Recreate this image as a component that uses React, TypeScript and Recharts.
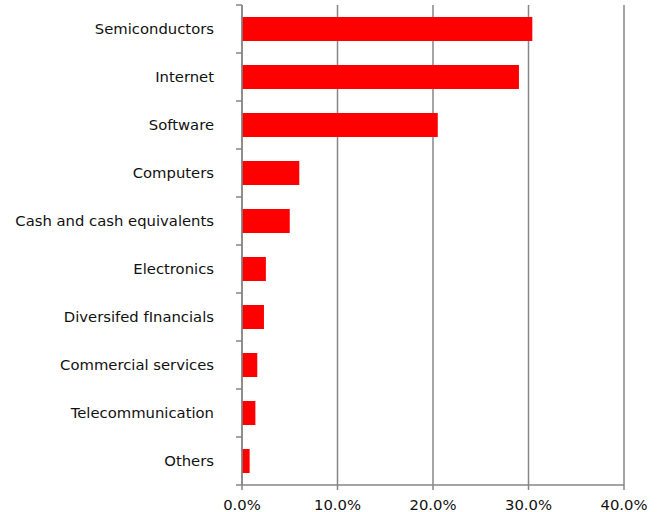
import { BarChart, Bar, XAxis, YAxis, CartesianGrid } from 'recharts';

const sectors = [
  'Semiconductors',
  'Internet',
  'Software',
  'Computers',
  'Cash and cash equivalents',
  'Electronics',
  'Diversifed fInancials',
  'Commercial services',
  'Telecommunication',
  'Others',
];

const weights = [30.4, 29.0, 20.5, 6.0, 5.0, 2.5, 2.3, 1.6, 1.4, 0.8];

const xTicks = [0, 10, 20, 30, 40];

const data = sectors.map((name, i) => ({ name, value: weights[i] }));

const WIDTH = 661;
const HEIGHT = 512;
const MARGIN = { top: 5, right: 37, bottom: 0, left: 0 };
const X_AXIS_HEIGHT = 27;
const BAND = (HEIGHT - MARGIN.top - MARGIN.bottom - X_AXIS_HEIGHT) / sectors.length;
const AXIS_COLOR = '#868686';
const FONT = '"DejaVu Sans", Verdana, sans-serif';
const FONT_SIZE = 14.8;

const SectorTick = (props: any) => {
  const { x, y, payload, index } = props;
  return (
    <g>
      <text x={x} y={y} dy={5} textAnchor="end" fill="#111" fontSize={FONT_SIZE} fontFamily={FONT}>
        {payload.value}
      </text>
      {index === 0 && (
        <line x1={x + 22} x2={x + 28} y1={y - BAND / 2} y2={y - BAND / 2} stroke={AXIS_COLOR} strokeWidth={1.5} />
      )}
      <line x1={x + 22} x2={x + 28} y1={y + BAND / 2} y2={y + BAND / 2} stroke={AXIS_COLOR} strokeWidth={1.5} />
    </g>
  );
};

export default function App() {
  return (
    <div style={{ position: 'absolute', left: 0, top: 0, background: '#fff' }}>
      <BarChart
        width={WIDTH}
        height={HEIGHT}
        data={data}
        layout="vertical"
        margin={MARGIN}
        barCategoryGap="25%"
      >
        <CartesianGrid horizontal={false} stroke={AXIS_COLOR} strokeWidth={1.5} />
        <XAxis
          type="number"
          domain={[0, 40]}
          ticks={xTicks}
          interval={0}
          height={X_AXIS_HEIGHT}
          tickFormatter={(v: number) => `${v.toFixed(1)}%`}
          tick={{ fill: '#111', fontSize: FONT_SIZE, fontFamily: FONT }}
          tickSize={5}
          tickMargin={9}
          stroke={AXIS_COLOR}
          axisLine={{ stroke: AXIS_COLOR, strokeWidth: 1.5 }}
          tickLine={{ stroke: AXIS_COLOR, strokeWidth: 1.5 }}
        />
        <YAxis
          type="category"
          dataKey="name"
          width={242}
          interval={0}
          tickLine={false}
          tickSize={0}
          tickMargin={28}
          tick={<SectorTick />}
          axisLine={{ stroke: AXIS_COLOR, strokeWidth: 1.5 }}
        />
        <Bar dataKey="value" fill="#FF0000" isAnimationActive={false} />
      </BarChart>
    </div>
  );
}
